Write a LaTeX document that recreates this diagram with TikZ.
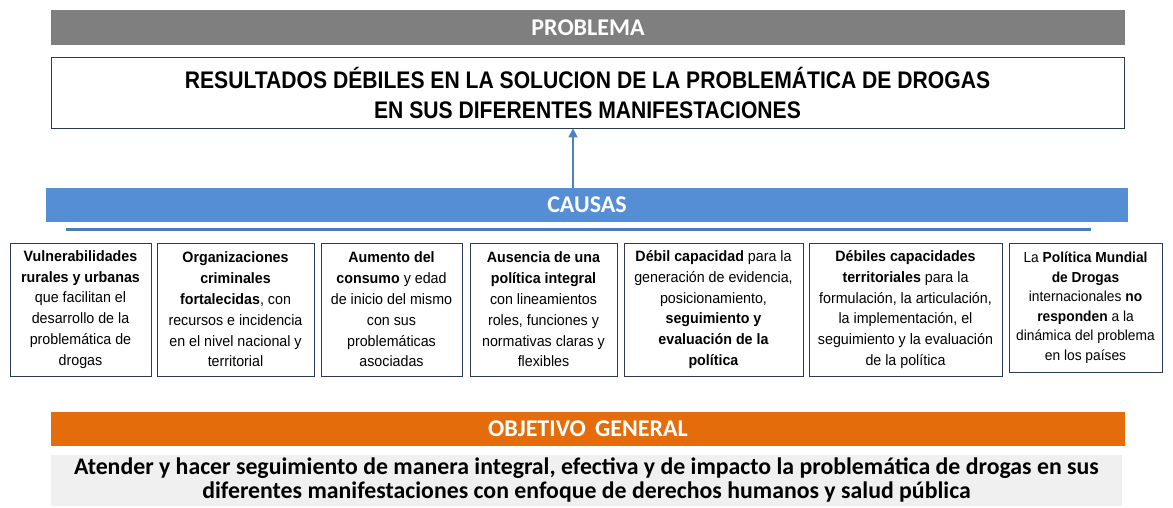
\documentclass[tikz,border=0pt]{standalone}
\usepackage{fontspec}
\setmainfont{Liberation Sans}
\newfontfamily\narrowf[FakeStretch=0.88]{Liberation Sans}
\newfontfamily\boxf[FakeStretch=0.95]{Liberation Sans}
\newfontfamily\calib{Carlito}
\usetikzlibrary{arrows.meta}
\definecolor{probgray}{HTML}{7F7F7F}
\definecolor{causblue}{HTML}{558ED5}
\definecolor{objorange}{HTML}{E46C0A}
\definecolor{lightbg}{HTML}{F0F0F0}
\definecolor{boxborder}{HTML}{2B3A55}
\definecolor{arrowblue}{HTML}{4F81BD}
\definecolor{shadowblue}{HTML}{4A7EBB}
\begin{document}
\begin{tikzpicture}[x=1pt,y=-1pt,
  hdr/.style={inner sep=0pt, text=white, font=\calib\bfseries\fontsize{24}{28}\selectfont},
  causebox/.style={draw=boxborder, line width=0.8pt, inner sep=0pt, align=center,
    font=\boxf\fontsize{15}{20.8}\selectfont},
  arr/.style={draw=arrowblue, line width=1.6pt, -{Triangle[length=9pt,width=9pt]}}
]
\useasboundingbox (0,0) rectangle (1173,508);

\node[hdr, fill=probgray, minimum width=1074pt, minimum height=35pt] (prob) at (588,27.5) {PROBLEMA};

\node[draw=boxborder, line width=0.8pt, inner sep=0pt, minimum width=1073pt, minimum height=71pt,
  align=center, font=\narrowf\bfseries\fontsize{24}{30}\selectfont] (res) at (587.5,92.5)
  {RESULTADOS DÉBILES EN LA SOLUCION DE LA PROBLEMÁTICA DE DROGAS\\EN SUS DIFERENTES MANIFESTACIONES};

\node[hdr, fill=causblue, minimum width=1082pt, minimum height=34pt] (caus) at (587,205) {CAUSAS};
\coordinate (shl) at (66,229);
\coordinate (shr) at (1091,229);
\draw[shadowblue, line width=3pt] (shl) -- (shr);

\coordinate (ax) at (573,0);
\draw[arr] (caus.north -| ax) -- (res.south -| ax);

\node[causebox, minimum width=141pt, minimum height=133pt] (c1) at (80.5,309.5)
  {\textbf{Vulnerabilidades}\\\textbf{rurales y urbanas}\\que facilitan el\\desarrollo de la\\problemática de\\drogas};
\node[causebox, minimum width=157pt, minimum height=133pt] (c2) at (235.5,309.5)
  {\textbf{Organizaciones}\\\textbf{criminales}\\\textbf{fortalecidas}, con\\recursos e incidencia\\en el nivel nacional y\\territorial};
\node[causebox, minimum width=141pt, minimum height=133pt] (c3) at (391.5,309.5)
  {\textbf{Aumento del}\\\textbf{consumo} y edad\\de inicio del mismo\\con sus\\problemáticas\\asociadas};
\node[causebox, minimum width=147pt, minimum height=133pt] (c4) at (543.5,309.5)
  {\textbf{Ausencia de una}\\\textbf{política integral}\\con lineamientos\\roles, funciones y\\normativas claras y\\flexibles};
\node[causebox, minimum width=179pt, minimum height=133pt] (c5) at (713.5,309.5)
  {\textbf{Débil capacidad} para la\\generación de evidencia,\\posicionamiento,\\\textbf{seguimiento y}\\\textbf{evaluación de la}\\\textbf{política}};
\node[causebox, minimum width=193pt, minimum height=133pt] (c6) at (905.5,309.5)
  {\textbf{Débiles capacidades}\\\textbf{territoriales} para la\\formulación, la articulación,\\la implementación, el\\seguimiento y la evaluación\\de la política};
\node[causebox, minimum width=153pt, minimum height=129pt, font=\boxf\fontsize{14.5}{19.5}\selectfont] (c7) at (1085.5,307.5)
  {La \textbf{Política Mundial}\\\textbf{de Drogas}\\internacionales \textbf{no}\\\textbf{responden} a la\\dinámica del problema\\en los países};

\node[hdr, fill=objorange, minimum width=1074pt, minimum height=34pt] (obj) at (588,429) {OBJETIVO\, GENERAL};

\node[fill=lightbg, inner sep=0pt, minimum width=1071pt, minimum height=51pt, align=center,
  font=\calib\bfseries\fontsize{23.8}{24}\selectfont] (gen) at (586.5,480.5)
  {Atender y hacer seguimiento de manera integral, efectiva y de impacto la problemática de drogas en sus\\diferentes manifestaciones con enfoque de derechos humanos y salud pública};
\end{tikzpicture}
\end{document}
